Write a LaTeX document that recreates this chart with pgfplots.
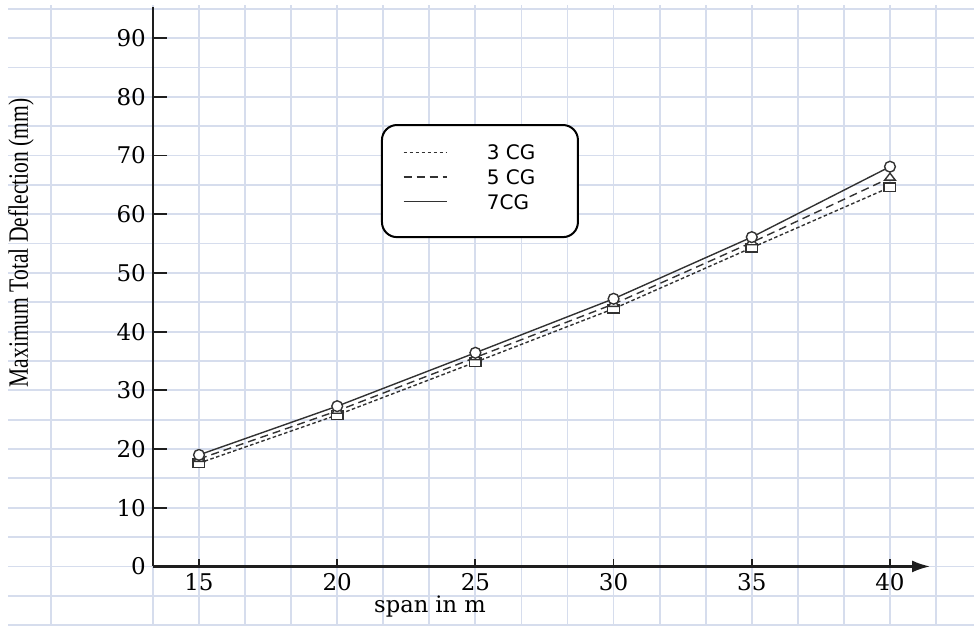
\documentclass[border=0pt]{standalone}
\usepackage{pgfplots}
\pgfplotsset{compat=1.18}
\usepackage{fontspec}
\setmainfont{Liberation Serif}
\newfontfamily\tickfont{DejaVu Serif}
\newfontfamily\legfont{DejaVu Sans}
\usetikzlibrary{arrows.meta}
\definecolor{gridc}{RGB}{214,221,237}
\definecolor{axc}{RGB}{30,30,30}
\definecolor{linec}{RGB}{50,50,50}

\begin{document}
\begin{tikzpicture}
\begin{axis}[
  x=13.82pt, y=2.935pt,
  xmin=13.3333, xmax=41.45, ymin=0, ymax=95.3,
  axis x line=bottom, axis y line=left,
  axis on top=true,
  axis line style={axc, line width=1.1pt, -},
  x axis line style={-{Latex[length=9pt,width=6pt]}},
  clip=false,
  xtick={15,20,...,40},
  ytick=\empty,
  extra y ticks={0,10,...,90},
  extra y tick style={major tick length=7pt},
  tick align=inside, major tick length=3.5pt,
  tick style={axc, line width=0.9pt},
  /pgf/number format/assume math mode=true,
  tick label style={font=\fontsize{11.5}{13}\tickfont, text=black},
  legend cell align=left,
  legend style={draw=none, fill=none, inner sep=0pt, outer sep=0pt,
    at={(axis cs:22.38,72.6)}, anchor=north west,
    font=\fontsize{10}{12}\legfont,
    nodes={text height=7.3pt, text depth=0pt, inner sep=2.5pt}},
  legend image code/.code={\draw[#1, mark=none] (0pt,0pt) -- (21.5pt,0pt); \path[draw=none] (39pt,0pt) circle (0.1pt);},
]
% background grid
\pgfplotsinvokeforeach{0,...,17}{
  \draw[gridc, line width=0.9pt] (axis cs:{13.3333+#1*5/3},-10.1) -- (axis cs:{13.3333+#1*5/3},95.6);
}
\draw[gridc, line width=0.9pt] (axis cs:9.645,-10.1) -- (axis cs:9.645,95.6);
\pgfplotsinvokeforeach{-2,...,19}{
  \draw[gridc, line width=0.9pt] (axis cs:8.09,{#1*5}) -- (axis cs:43.04,{#1*5});
}
% legend frame
\draw[black, line width=1pt, fill=white, rounded corners=7.5pt] (axis cs:21.62,75.2) rectangle (axis cs:28.71,56.1);

\addplot[linec, line width=0.7pt, dash pattern=on 1.8pt off 1.2pt,
  mark=square*, mark size=2.9pt, mark options={solid, fill=white, yscale=0.75}]
  coordinates {(15,17.6) (20,25.8) (25,34.8) (30,43.9) (35,54.3) (40,64.6)};
\addlegendentry{3 CG}
\addplot[linec, line width=0.7pt, dash pattern=on 4pt off 2.5pt,
  mark=triangle*, mark size=3.1pt, mark options={solid, fill=white, yscale=0.75}]
  coordinates {(15,18.3) (20,26.5) (25,35.6) (30,44.7) (35,55.2) (40,66.2)};
\addlegendentry{5 CG}
\addplot[linec, line width=0.7pt, solid,
  mark=*, mark size=2.7pt, mark options={solid, fill=white}]
  coordinates {(15,19.0) (20,27.3) (25,36.4) (30,45.6) (35,56.1) (40,68.1)};
\addlegendentry{7CG}

\node[rotate=90] at (axis cs:8.56,55.1) {\scalebox{0.77}[1]{\fontsize{14}{16}\selectfont Maximum Total Deflection (mm)}};
\node at (axis cs:23.36,-6.9) {\fontsize{11.3}{13}\tickfont span in m};

\coordinate (bbl) at (axis cs:7.80,-10.16);
\coordinate (bbr) at (axis cs:43.04,96.5);
\end{axis}
\pgfresetboundingbox
\path[use as bounding box] (bbl) rectangle (bbr);
\end{tikzpicture}
\end{document}
